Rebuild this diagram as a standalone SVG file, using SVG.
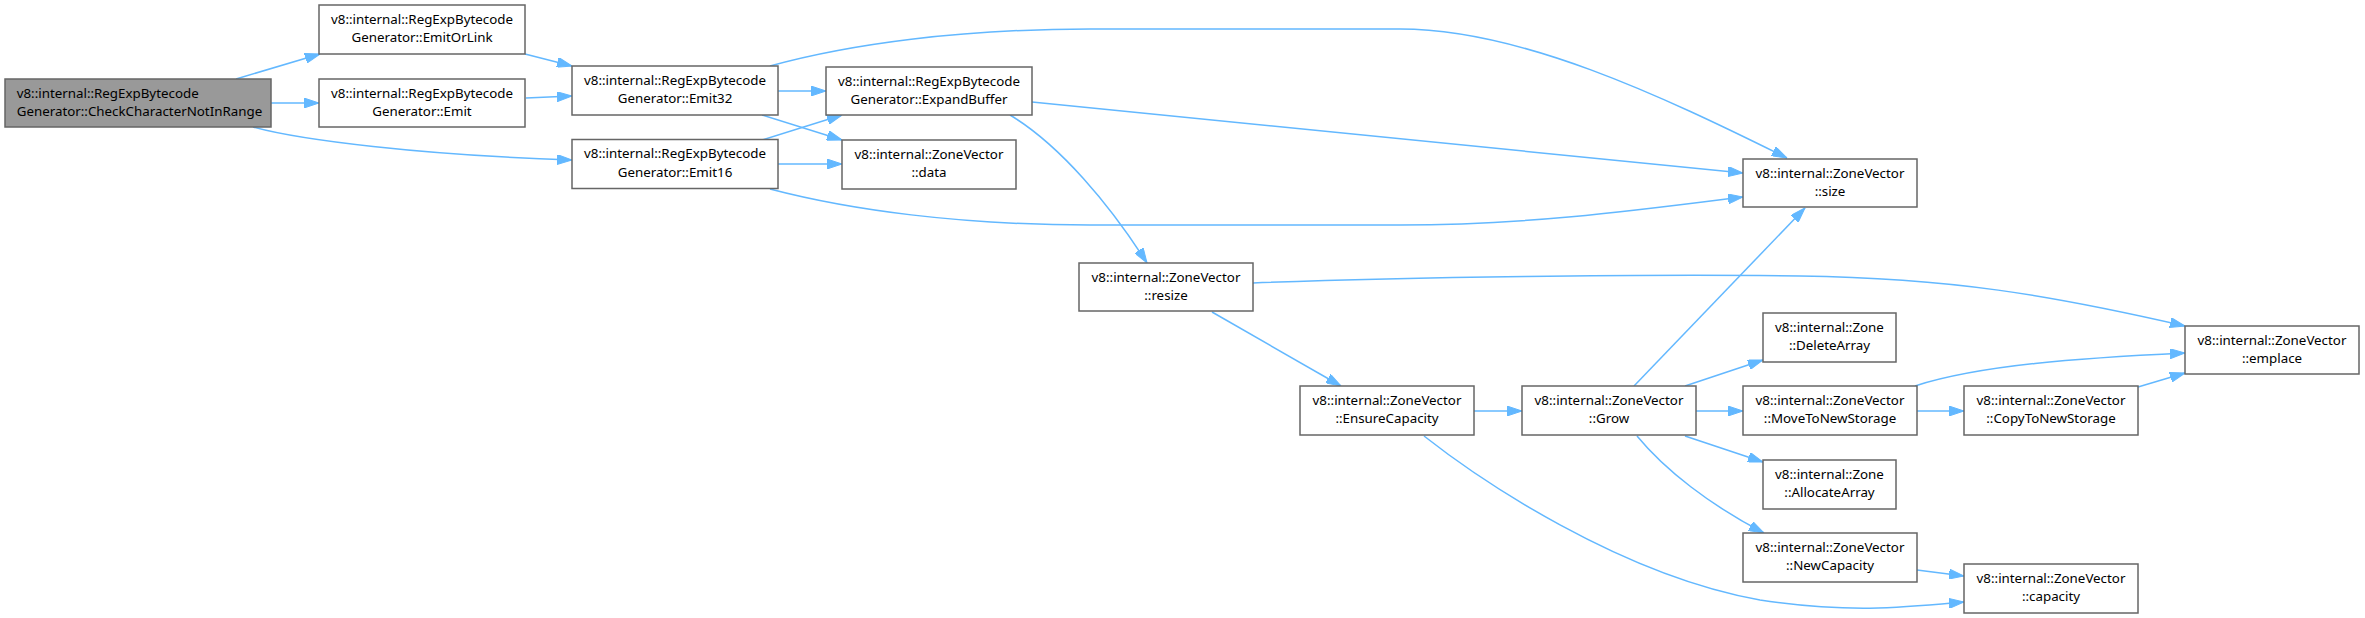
<svg xmlns="http://www.w3.org/2000/svg" width="2365" height="618" viewBox="0 0 2365 618">
<style>
.n rect{fill:#ffffff;stroke:#666666;stroke-width:1.5}
.n.root rect{fill:#999999}
text{font-family:"Noto Sans","Liberation Sans",sans-serif;font-size:13.33px;fill:#000000;text-anchor:middle}
.n.root text{text-anchor:start}
#edges path{fill:none;stroke:#63b8ff;stroke-width:1.5;marker-end:url(#arr)}
</style>
<defs>
<marker id="arr" viewBox="0 0 15 10" refX="15" refY="5" markerWidth="15" markerHeight="10" markerUnits="userSpaceOnUse" orient="auto">
<path d="M0,0 L15,5 L0,10 z" fill="#63b8ff" stroke="#63b8ff" stroke-width="1"/>
</marker>
</defs>
<rect width="2365" height="618" fill="#ffffff"/>
<g id="edges">
<path d="M236,79 L320,54"/>
<path d="M271,103 L319,103"/>
<path d="M253,127 C300,140 420,155 572,160"/>
<path d="M525,54 L572,66"/>
<path d="M526,98 L572,96"/>
<path d="M778,91 L826,91"/>
<path d="M762,115 L842,140"/>
<path d="M770,66 C850,44 960,29 1090,29 L1400,29 C1520,29 1660,95 1787,158"/>
<path d="M762,140 L842,115"/>
<path d="M778,164 L842,164"/>
<path d="M770,189 C850,210 960,225 1090,225 L1400,225 C1530,225 1640,210 1743,197"/>
<path d="M1032,102 L1743,173"/>
<path d="M1010,115 C1060,145 1110,205 1147,263"/>
<path d="M1253,283 C1400,277 1650,274 1800,276 C1950,278 2050,295 2185,326"/>
<path d="M1212,312 L1341,386"/>
<path d="M1474,411 L1522,411"/>
<path d="M1424,436 C1480,480 1620,575 1760,600 C1850,614 1910,607 1964,602"/>
<path d="M1634,386 L1805,208"/>
<path d="M1685,386 L1763,360"/>
<path d="M1696,411 L1743,411"/>
<path d="M1685,436 L1763,462"/>
<path d="M1637,436 C1665,470 1710,505 1764,533"/>
<path d="M1917,411 L1964,411"/>
<path d="M1915,386 C1980,365 2080,358 2185,353"/>
<path d="M2138,387 L2185,373"/>
<path d="M1917,570 L1964,576"/>
</g>
<g id="n_check" class="n root"><rect x="5" y="79" width="266" height="48"/><text x="16.7" y="97.5">v8::internal::RegExpBytecode</text><text x="16.7" y="116">Generator::CheckCharacterNotInRange</text></g>
<g id="n_emitorlink" class="n"><rect x="319" y="5" width="206" height="49"/><text x="422" y="23.5">v8::internal::RegExpBytecode</text><text x="422" y="42">Generator::EmitOrLink</text></g>
<g id="n_emit" class="n"><rect x="319" y="79" width="206" height="48"/><text x="422" y="97.5">v8::internal::RegExpBytecode</text><text x="422" y="116">Generator::Emit</text></g>
<g id="n_emit32" class="n"><rect x="572" y="66" width="206" height="49"/><text x="675" y="84.5">v8::internal::RegExpBytecode</text><text x="675" y="103">Generator::Emit32</text></g>
<g id="n_emit16" class="n"><rect x="572" y="139.5" width="206" height="49"/><text x="675" y="158">v8::internal::RegExpBytecode</text><text x="675" y="176.5">Generator::Emit16</text></g>
<g id="n_expandbuffer" class="n"><rect x="826" y="67" width="206" height="48"/><text x="929" y="85.5">v8::internal::RegExpBytecode</text><text x="929" y="104">Generator::ExpandBuffer</text></g>
<g id="n_data" class="n"><rect x="842" y="140" width="174" height="49"/><text x="929" y="158.5">v8::internal::ZoneVector</text><text x="929" y="177">::data</text></g>
<g id="n_size" class="n"><rect x="1743" y="159" width="174" height="48"/><text x="1830" y="177.5">v8::internal::ZoneVector</text><text x="1830" y="196">::size</text></g>
<g id="n_resize" class="n"><rect x="1079" y="263" width="174" height="48"/><text x="1166" y="281.5">v8::internal::ZoneVector</text><text x="1166" y="300">::resize</text></g>
<g id="n_emplace" class="n"><rect x="2185" y="326" width="174" height="48"/><text x="2272" y="344.5">v8::internal::ZoneVector</text><text x="2272" y="363">::emplace</text></g>
<g id="n_ensurecapacity" class="n"><rect x="1300" y="386" width="174" height="49"/><text x="1387" y="404.5">v8::internal::ZoneVector</text><text x="1387" y="423">::EnsureCapacity</text></g>
<g id="n_grow" class="n"><rect x="1522" y="386" width="174" height="49"/><text x="1609" y="404.5">v8::internal::ZoneVector</text><text x="1609" y="423">::Grow</text></g>
<g id="n_deletearray" class="n"><rect x="1763" y="313" width="133" height="49"/><text x="1829.5" y="331.5">v8::internal::Zone</text><text x="1829.5" y="350">::DeleteArray</text></g>
<g id="n_movetonewstorage" class="n"><rect x="1743" y="386" width="174" height="49"/><text x="1830" y="404.5">v8::internal::ZoneVector</text><text x="1830" y="423">::MoveToNewStorage</text></g>
<g id="n_allocatearray" class="n"><rect x="1763" y="460" width="133" height="49"/><text x="1829.5" y="478.5">v8::internal::Zone</text><text x="1829.5" y="497">::AllocateArray</text></g>
<g id="n_newcapacity" class="n"><rect x="1743" y="533" width="174" height="49"/><text x="1830" y="551.5">v8::internal::ZoneVector</text><text x="1830" y="570">::NewCapacity</text></g>
<g id="n_copytonewstorage" class="n"><rect x="1964" y="386" width="174" height="49"/><text x="2051" y="404.5">v8::internal::ZoneVector</text><text x="2051" y="423">::CopyToNewStorage</text></g>
<g id="n_capacity" class="n"><rect x="1964" y="564" width="174" height="49"/><text x="2051" y="582.5">v8::internal::ZoneVector</text><text x="2051" y="601">::capacity</text></g>
</svg>
